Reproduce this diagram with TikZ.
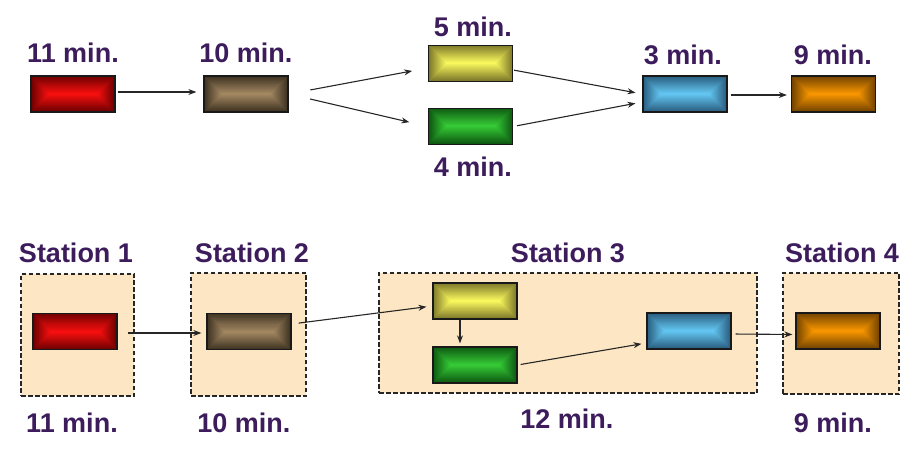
\documentclass[tikz,border=0pt]{standalone}
\usepackage{fontspec}
\setmainfont{Liberation Sans}
\usepackage{xcolor}
\usepackage{tikz}
\usetikzlibrary{arrows.meta, positioning, calc}
\definecolor{minpurple}{HTML}{3D1C5C}
\definecolor{stationfill}{HTML}{FDE6C3}
\definecolor{redin}{HTML}{FF1010}
\definecolor{redout}{HTML}{6E0000}
\definecolor{brownin}{HTML}{A88C64}
\definecolor{brownout}{HTML}{3E3222}
\definecolor{yellowin}{HTML}{FFFF60}
\definecolor{yellowout}{HTML}{807A2A}
\definecolor{greenin}{HTML}{38D038}
\definecolor{greenout}{HTML}{0E5A12}
\definecolor{bluein}{HTML}{66CCF8}
\definecolor{blueout}{HTML}{2A5E80}
\definecolor{orangein}{HTML}{FF9A00}
\definecolor{orangeout}{HTML}{744400}

\begin{document}
\begin{tikzpicture}[x=1pt, y=-1pt,
    task/.style 2 args={draw=black!90, line width=1.3pt, minimum width=84pt,
        minimum height=36pt, inner sep=0pt,
        path picture={
            \foreach \k in {0,...,18}{
                \pgfmathtruncatemacro{\mix}{\k*100/18}
                \fill[#1!\mix!#2]
                    ($(path picture bounding box.south west)+(\k pt,\k pt)$) rectangle
                    ($(path picture bounding box.north east)-(\k pt,\k pt)$);
            }
        }},
    station/.style={draw=black!85, fill=stationfill, dash pattern=on 4.5pt off 2.5pt,
        line width=1.3pt, inner sep=0pt},
    lbl/.style={font=\fontsize{27}{30}\selectfont\bfseries, text=minpurple, inner sep=0pt},
    flow/.style={-{Stealth[length=8pt, width=6pt]}, line width=1.1pt, black!85},
]
    \useasboundingbox (0,0) rectangle (919,457);

    % Top row: tasks and their times
    \node[task={redin}{redout}] (red1) at (73,94) {};
    \node[task={brownin}{brownout}] (brown1) at (246,94) {};
    \node[task={yellowin}{yellowout}] (yellow1) at (470.5,63.5) {};
    \node[task={greenin}{greenout}] (green1) at (470.5,126.5) {};
    \node[task={bluein}{blueout}] (blue1) at (685,94) {};
    \node[task={orangein}{orangeout}] (orange1) at (833.5,94) {};

    \node[lbl] (t-red1) at (73,53) {11 min.};
    \node[lbl] (t-brown1) at (246,53) {10 min.};
    \node[lbl] (t-yellow1) at (473,27) {5 min.};
    \node[lbl] (t-green1) at (473,167) {4 min.};
    \node[lbl] (t-blue1) at (683,55) {3 min.};
    \node[lbl] (t-orange1) at (833,55) {9 min.};

    \draw[flow, shorten <=2pt, shorten >=7pt] ([yshift=2pt]red1.east) -- ([yshift=2pt]brown1.west);
    \draw[flow, shorten <=22pt, shorten >=16pt] (brown1.east) -- ([yshift=-4.5pt]yellow1.west);
    \draw[flow, shorten <=22pt, shorten >=19pt] (brown1.east) -- (green1.west);
    \draw[flow, shorten <=1pt, shorten >=7pt] ([yshift=-6.5pt]yellow1.east) -- (blue1.west);
    \draw[flow, shorten <=4pt, shorten >=7pt] (green1.east) -- ([yshift=-8pt]blue1.west);
    \draw[flow, shorten <=3pt, shorten >=4pt] ([yshift=-1pt]blue1.east) -- ([yshift=-1pt]orange1.west);

    % Bottom row: stations
    \node[station, minimum width=113pt, minimum height=122pt] (st1) at (77.5,335) {};
    \node[station, minimum width=115pt, minimum height=123pt] (st2) at (248.5,334.5) {};
    \node[station, minimum width=378pt, minimum height=120pt] (st3) at (568,333) {};
    \node[station, minimum width=116pt, minimum height=121pt] (st4) at (841,333.5) {};

    \node[lbl] (s-st1) at (76,253) {Station 1};
    \node[lbl] (s-st2) at (252,253) {Station 2};
    \node[lbl] (s-st3) at (568,253) {Station 3};
    \node[lbl] (s-st4) at (842,253) {Station 4};

    \node[task={redin}{redout}] (red2) at (75,331.5) {};
    \node[task={brownin}{brownout}] (brown2) at (249,331.5) {};
    \node[task={yellowin}{yellowout}] (yellow2) at (475,301) {};
    \node[task={greenin}{greenout}] (green2) at (475,365) {};
    \node[task={bluein}{blueout}] (blue2) at (689,331) {};
    \node[task={orangein}{orangeout}] (orange2) at (838,331) {};

    \node[lbl] (m-st1) at (72,423) {11 min.};
    \node[lbl] (m-st2) at (244,423) {10 min.};
    \node[lbl] (m-st3) at (567,419) {12 min.};
    \node[lbl] (m-st4) at (833,423) {9 min.};

    \draw[flow, shorten <=10pt, shorten >=5pt] ([yshift=-1.5pt]red2.east) -- ([yshift=-1.5pt]brown2.west);
    \draw[flow, shorten <=7pt, shorten >=6pt] ([yshift=7.5pt]brown2.east) -- ([yshift=-5pt]yellow2.west);
    \draw[flow, shorten >=3pt] ([xshift=-15pt]yellow2.south) -- ([xshift=-15pt]green2.north);
    \draw[flow, shorten <=3pt, shorten >=5pt] (green2.east) -- ([yshift=-12pt]blue2.west);
    \draw[flow, shorten <=4pt, shorten >=3pt] ([yshift=-3pt]blue2.east) -- ([yshift=-3.5pt]orange2.west);
\end{tikzpicture}
\end{document}
